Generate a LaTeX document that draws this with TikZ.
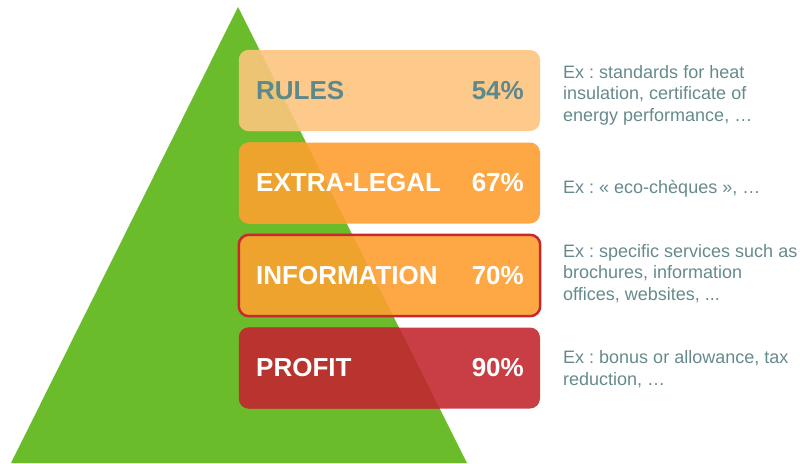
\documentclass[tikz,border=0pt]{standalone}
\usepackage{fontspec}
\setmainfont{Liberation Sans}
\begin{document}
\frenchspacing
\definecolor{pyrgreen}{HTML}{6BBC2A}
\definecolor{rulesfill}{HTML}{FECA8B}
\definecolor{rulesdark}{HTML}{ECC473}
\definecolor{orangefill}{HTML}{FDA845}
\definecolor{orangedark}{HTML}{EEA32F}
\definecolor{profitfill}{HTML}{C93D45}
\definecolor{profitdark}{HTML}{BA342F}
\definecolor{borderred}{HTML}{C9282F}
\definecolor{labelgray}{HTML}{5E8889}
\definecolor{descgray}{HTML}{668A8C}
\begin{tikzpicture}[x=1pt,y=-1pt,
  box/.style={rectangle, rounded corners=10pt, minimum width=301pt, minimum height=81pt, inner sep=0pt},
  lbl/.style={font=\bfseries\fontsize{26}{30}\selectfont, inner sep=0pt},
  desc/.style={font=\fontsize{18}{21.5}\selectfont, text=descgray, align=left, inner sep=0pt, anchor=base west}]
  \useasboundingbox (0,0) rectangle (805,463);

  % pyramid
  \coordinate (apex) at (238,7);
  \coordinate (baseL) at (11,463);
  \coordinate (baseR) at (467,463);
  \fill[pyrgreen] (apex) -- (baseL) -- (baseR) -- cycle;

  % level boxes
  \node[box, fill=rulesfill]  (rules)  at (389.5,90.5) {};
  \node[box, fill=orangefill] (extra)  at (389.5,183) {};
  \node[box, fill=orangefill] (info)   at (389.5,275.5) {};
  \node[box, fill=profitfill] (profit) at (389.5,368) {};

  % darker tint where the boxes overlap the pyramid
  \begin{scope}
    \clip (apex) -- (baseL) -- (baseR) -- cycle;
    \fill[rulesdark, rounded corners=10pt] (rules.south west) rectangle (rules.north east);
    \fill[orangedark, rounded corners=10pt] (extra.south west) rectangle (extra.north east);
    \fill[orangedark, rounded corners=10pt] (info.south west) rectangle (info.north east);
    \fill[profitdark, rounded corners=10pt] (profit.south west) rectangle (profit.north east);
  \end{scope}
  \draw[borderred, line width=2.5pt, rounded corners=10pt] (info.south west) rectangle (info.north east);

  % labels and percentages
  \node[lbl, text=labelgray, anchor=base west] (rulesT) at (256,99) {RULES};
  \node[lbl, text=labelgray, anchor=base east] (rulesP) at (524,99) {54\%};
  \node[lbl, text=white, anchor=base west] (extraT) at (256,191.5) {EXTRA-LEGAL};
  \node[lbl, text=white, anchor=base east] (extraP) at (524,191.5) {67\%};
  \node[lbl, text=white, anchor=base west] (infoT) at (256,284) {INFORMATION};
  \node[lbl, text=white, anchor=base east] (infoP) at (524,284) {70\%};
  \node[lbl, text=white, anchor=base west] (profitT) at (256,376.5) {PROFIT};
  \node[lbl, text=white, anchor=base east] (profitP) at (524,376.5) {90\%};

  % examples (anchored at the baseline of their last line)
  \node[desc] (rulesD) at (563,121) {Ex : standards for heat\\insulation, certificate of\\energy performance, …};
  \node[desc] (extraD) at (563,193) {Ex : « eco-chèques », …};
  \node[desc] (infoD) at (563,300) {Ex : specific services such as\\brochures, information\\offices, websites, ...};
  \node[desc] (profitD) at (563,385) {Ex : bonus or allowance, tax\\reduction, …};
\end{tikzpicture}
\end{document}
